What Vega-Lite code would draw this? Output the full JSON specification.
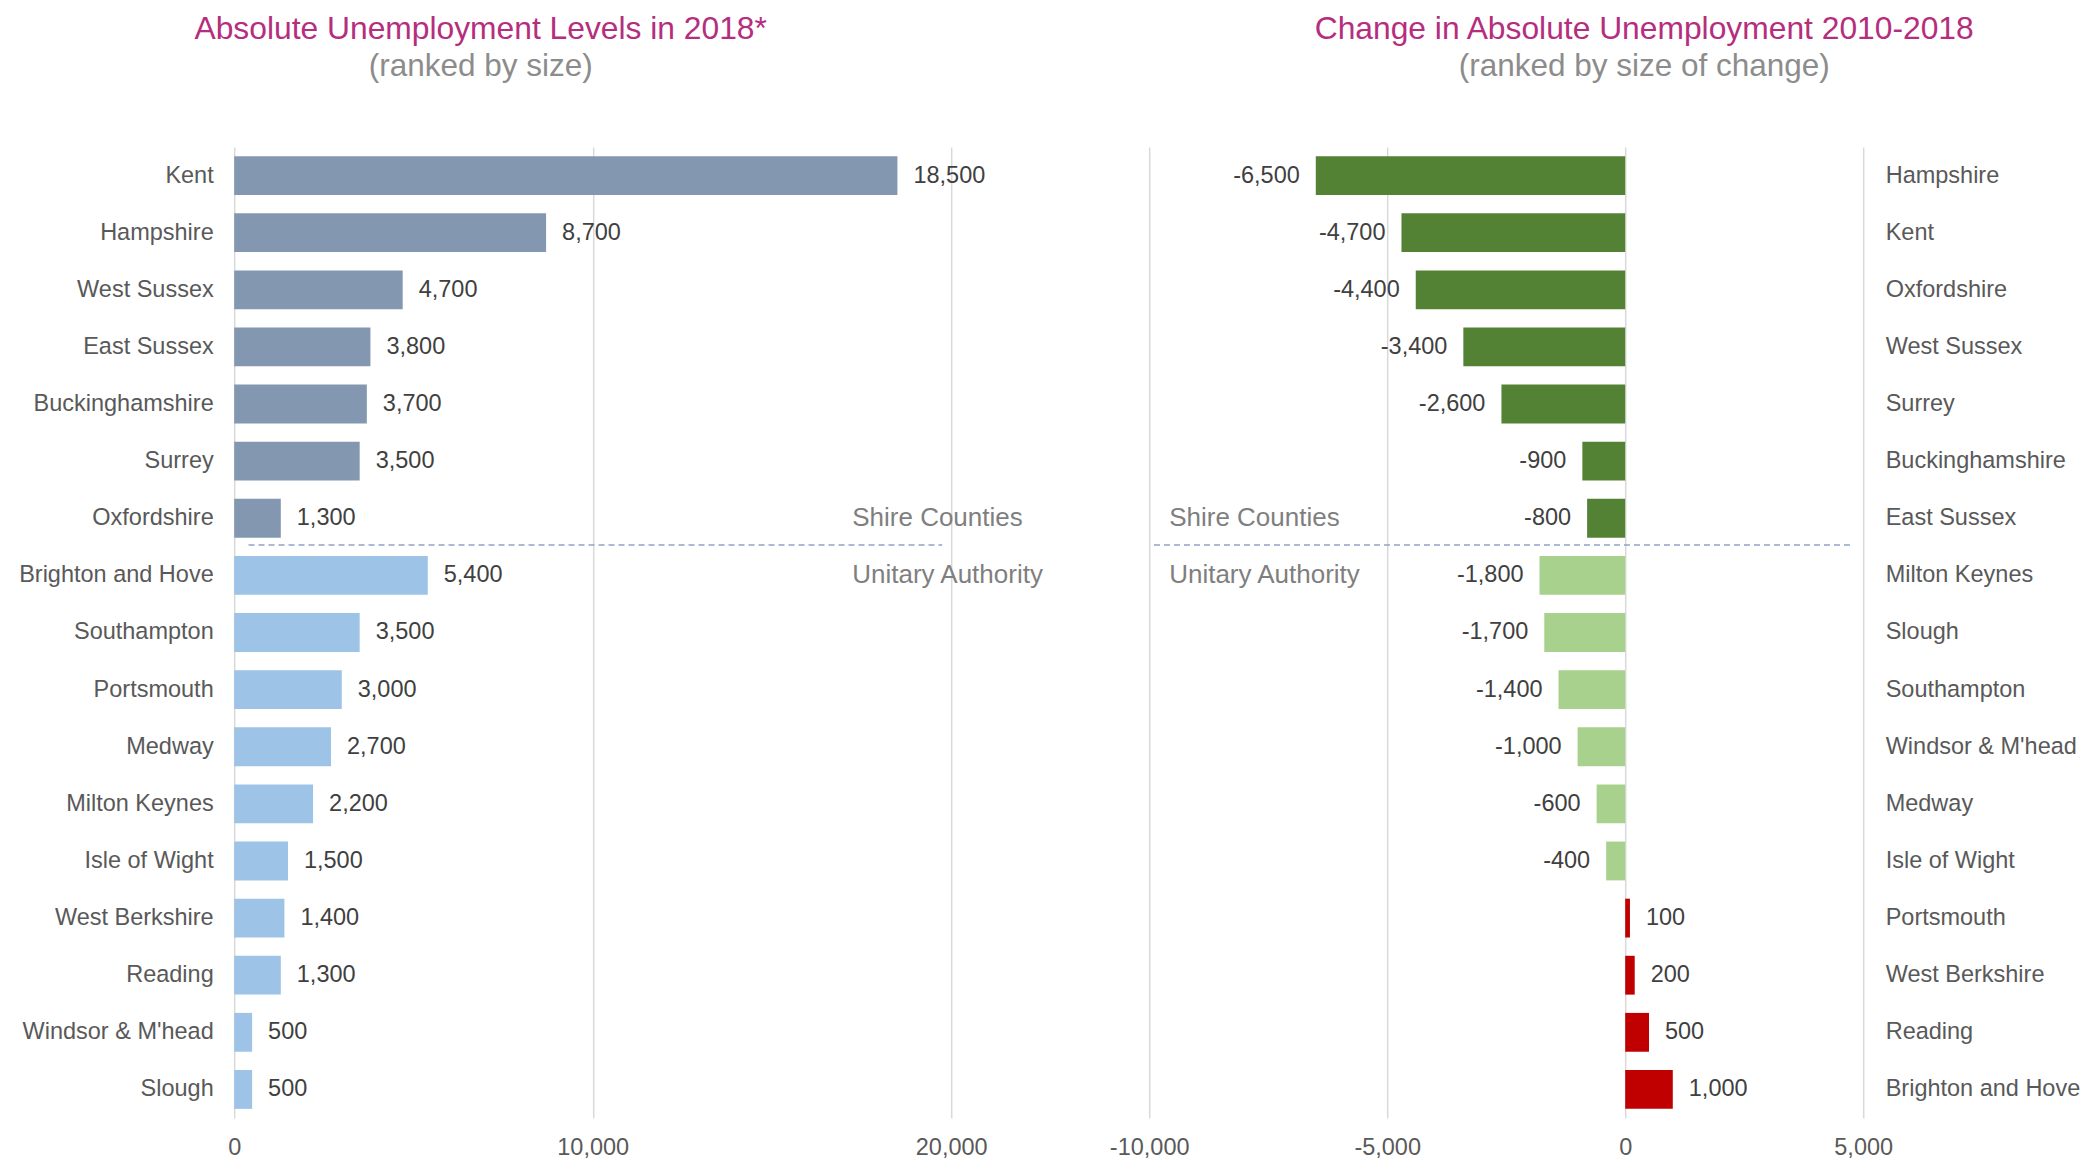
{
  "$schema": "https://vega.github.io/schema/vega-lite/v6.json",
  "background": "white",
  "padding": {"left": 18.2, "top": 13, "right": 5, "bottom": 5},
  "bounds": "flush",
  "spacing": 198,
  "config": {
    "view": {"stroke": null},
    "font": "Liberation Sans",
    "locale": {"number": {"decimal": ".", "thousands": ",", "grouping": [3], "currency": ["$", ""], "minus": "-"}},
    "title": {"fontSize": 31.8, "fontWeight": "normal", "color": "#B52E7E", "subtitleFontSize": 31.5, "subtitleColor": "#8C8C8C", "subtitlePadding": 5.5, "frame": "group", "anchor": "middle", "offset": 64.5},
    "axis": {"labelFont": "Liberation Sans", "labelFontSize": 23.5, "labelColor": "#595959", "labelLimit": 500, "labelFlush": false, "domain": false, "ticks": false, "title": null, "gridColor": "#D9D9D9", "gridWidth": 1.5}
  },
  "resolve": {"scale": {"x": "independent", "y": "independent", "color": "independent"}},
  "hconcat": [
    {
      "width": 717,
      "height": 971,
      "title": {"text": "Absolute Unemployment Levels in 2018*", "subtitle": "(ranked by size)", "dx": -112},
      "data": {"values": [
        {"area": "Kent", "value": 18500, "type": "Shire Counties"},
        {"area": "Hampshire", "value": 8700, "type": "Shire Counties"},
        {"area": "West Sussex", "value": 4700, "type": "Shire Counties"},
        {"area": "East Sussex", "value": 3800, "type": "Shire Counties"},
        {"area": "Buckinghamshire", "value": 3700, "type": "Shire Counties"},
        {"area": "Surrey", "value": 3500, "type": "Shire Counties"},
        {"area": "Oxfordshire", "value": 1300, "type": "Shire Counties"},
        {"area": "Brighton and Hove", "value": 5400, "type": "Unitary Authority"},
        {"area": "Southampton", "value": 3500, "type": "Unitary Authority"},
        {"area": "Portsmouth", "value": 3000, "type": "Unitary Authority"},
        {"area": "Medway", "value": 2700, "type": "Unitary Authority"},
        {"area": "Milton Keynes", "value": 2200, "type": "Unitary Authority"},
        {"area": "Isle of Wight", "value": 1500, "type": "Unitary Authority"},
        {"area": "West Berkshire", "value": 1400, "type": "Unitary Authority"},
        {"area": "Reading", "value": 1300, "type": "Unitary Authority"},
        {"area": "Windsor & M'head", "value": 500, "type": "Unitary Authority"},
        {"area": "Slough", "value": 500, "type": "Unitary Authority"}
      ]},
      "encoding": {
        "y": {"field": "area", "type": "nominal", "sort": null, "scale": {"paddingInner": 0.32, "paddingOuter": 0.16}, "axis": {"labelPadding": 21, "grid": false}}
      },
      "layer": [
        {
          "mark": {"type": "bar"},
          "encoding": {
            "x": {"field": "value", "type": "quantitative", "scale": {"domain": [0, 20000], "nice": false}, "axis": {"values": [0, 10000, 20000], "labelExpr": "format(datum.value, ',')", "labelPadding": 18, "grid": true}},
            "color": {"field": "type", "type": "nominal", "scale": {"domain": ["Shire Counties", "Unitary Authority"], "range": ["#8497B0", "#9DC3E6"]}, "legend": null}
          }
        },
        {
          "mark": {"type": "text", "align": "left", "baseline": "middle", "dx": 16, "fontSize": 23.5, "color": "#404040"},
          "encoding": {
            "x": {"field": "value", "type": "quantitative"},
            "text": {"field": "value", "type": "quantitative", "format": ","}
          }
        },
        {
          "data": {"values": [{}]},
          "mark": {"type": "rule", "strokeDash": [6, 4], "strokeWidth": 1.5, "color": "#8FA3C6", "yOffset": -11},
          "encoding": {
            "y": {"datum": "Brighton and Hove", "bandPosition": 0},
            "x": {"datum": 400},
            "x2": {"datum": 19750}
          }
        },
        {
          "data": {"values": [{}]},
          "mark": {"type": "text", "text": "Shire Counties", "align": "left", "baseline": "middle", "fontSize": 26, "color": "#7F7F7F"},
          "encoding": {"y": {"datum": "Oxfordshire"}, "x": {"datum": 17240}}
        },
        {
          "data": {"values": [{}]},
          "mark": {"type": "text", "text": "Unitary Authority", "align": "left", "baseline": "middle", "fontSize": 26, "color": "#7F7F7F"},
          "encoding": {"y": {"datum": "Brighton and Hove"}, "x": {"datum": 17240}}
        }
      ]
    },
    {
      "width": 714,
      "height": 971,
      "title": {"text": "Change in Absolute Unemployment 2010-2018", "subtitle": "(ranked by size of change)", "dx": 138},
      "data": {"values": [
        {"area": "Hampshire", "change": -6500, "type": "Shire Counties"},
        {"area": "Kent", "change": -4700, "type": "Shire Counties"},
        {"area": "Oxfordshire", "change": -4400, "type": "Shire Counties"},
        {"area": "West Sussex", "change": -3400, "type": "Shire Counties"},
        {"area": "Surrey", "change": -2600, "type": "Shire Counties"},
        {"area": "Buckinghamshire", "change": -900, "type": "Shire Counties"},
        {"area": "East Sussex", "change": -800, "type": "Shire Counties"},
        {"area": "Milton Keynes", "change": -1800, "type": "Unitary Authority"},
        {"area": "Slough", "change": -1700, "type": "Unitary Authority"},
        {"area": "Southampton", "change": -1400, "type": "Unitary Authority"},
        {"area": "Windsor & M'head", "change": -1000, "type": "Unitary Authority"},
        {"area": "Medway", "change": -600, "type": "Unitary Authority"},
        {"area": "Isle of Wight", "change": -400, "type": "Unitary Authority"},
        {"area": "Portsmouth", "change": 100, "type": "Increase"},
        {"area": "West Berkshire", "change": 200, "type": "Increase"},
        {"area": "Reading", "change": 500, "type": "Increase"},
        {"area": "Brighton and Hove", "change": 1000, "type": "Increase"}
      ]},
      "encoding": {
        "y": {"field": "area", "type": "nominal", "sort": null, "scale": {"paddingInner": 0.32, "paddingOuter": 0.16}, "axis": {"orient": "right", "labelAlign": "left", "labelPadding": 22, "grid": false}}
      },
      "layer": [
        {
          "mark": {"type": "bar"},
          "encoding": {
            "x": {"field": "change", "type": "quantitative", "scale": {"domain": [-10000, 5000], "nice": false}, "axis": {"values": [-10000, -5000, 0, 5000], "labelExpr": "format(datum.value, ',')", "labelPadding": 18, "grid": true}},
            "color": {"field": "type", "type": "nominal", "scale": {"domain": ["Shire Counties", "Unitary Authority", "Increase"], "range": ["#548235", "#A9D18E", "#C00000"]}, "legend": null}
          }
        },
        {
          "transform": [{"filter": "datum.change < 0"}],
          "mark": {"type": "text", "align": "right", "baseline": "middle", "dx": -16, "fontSize": 23.5, "color": "#404040"},
          "encoding": {
            "x": {"field": "change", "type": "quantitative"},
            "text": {"field": "change", "type": "quantitative", "format": ","}
          }
        },
        {
          "transform": [{"filter": "datum.change >= 0"}],
          "mark": {"type": "text", "align": "left", "baseline": "middle", "dx": 16, "fontSize": 23.5, "color": "#404040"},
          "encoding": {
            "x": {"field": "change", "type": "quantitative"},
            "text": {"field": "change", "type": "quantitative", "format": ","}
          }
        },
        {
          "data": {"values": [{}]},
          "mark": {"type": "rule", "strokeDash": [6, 4], "strokeWidth": 1.5, "color": "#8FA3C6", "yOffset": -11},
          "encoding": {
            "y": {"datum": "Milton Keynes", "bandPosition": 0},
            "x": {"datum": -9900},
            "x2": {"datum": 4800}
          }
        },
        {
          "data": {"values": [{}]},
          "mark": {"type": "text", "text": "Shire Counties", "align": "left", "baseline": "middle", "fontSize": 26, "color": "#7F7F7F"},
          "encoding": {"y": {"datum": "East Sussex"}, "x": {"datum": -9580}}
        },
        {
          "data": {"values": [{}]},
          "mark": {"type": "text", "text": "Unitary Authority", "align": "left", "baseline": "middle", "fontSize": 26, "color": "#7F7F7F"},
          "encoding": {"y": {"datum": "Milton Keynes"}, "x": {"datum": -9580}}
        }
      ]
    }
  ]
}
